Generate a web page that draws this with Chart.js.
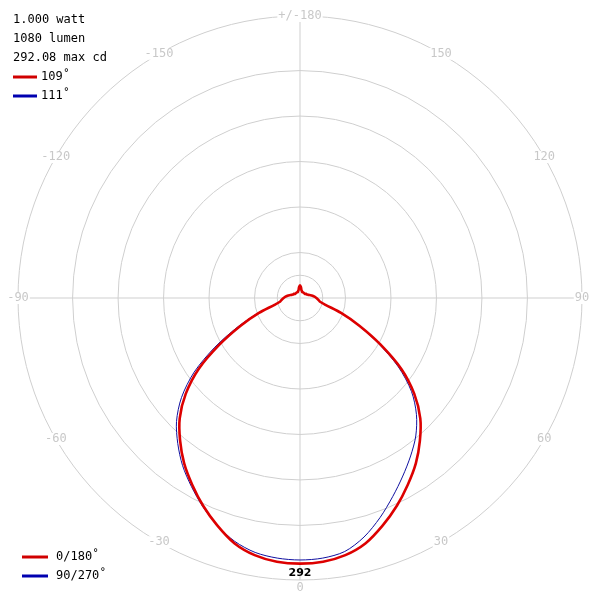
<!DOCTYPE html>
<html><head><meta charset="utf-8">
<script src="https://cdn.jsdelivr.net/npm/chart.js@4"></script>
<style>html,body{margin:0;background:#fff}#w{width:600px;height:600px}</style>
</head><body><div id="w"><canvas id="c"></canvas></div>
<script>
// angles clockwise from nadir, 5 deg steps (label order)
const angles = [0,-5,-10,-15,-20,-25,-30,-35,-40,-45,-50,-55,-60,-65,-70,-75,-80,-85,-90,-95,-100,-105,-110,-115,-120,-125,-130,-135,-140,-145,-150,-155,-160,-165,-170,-175,180,175,170,165,160,155,150,145,140,135,130,125,120,115,110,105,100,95,90,85,80,75,70,65,60,55,50,45,40,35,30,25,20,15,10,5];
const red0180 = [292,291,287,279,266,252,237,222,205,187,164,136,102,72,48,29,22,20,18,16,14,12,10,9,8,8,7,7,7,7,7,7,7,8,9,12,14,12,9,8,7,7,7,7,7,7,7,8,8,9,10,12,14,16,18,20,22,29,48,72,102,136,164,187,205,222,237,252,266,279,287,291];
const blue90270 = [288,287,284,277,266,253,239,225,209,192,170,142,108,76,50,30,22,20,18,16,14,12,10,9,8,8,7,7,7,7,7,7,7,8,9,12,14,12,9,8,7,7,7,7,7,7,7,8,8,9,10,12,14,16,18,20,22,29,47,70,99,132,160,181,198,212,226,241,257,272,283,287];
const ringValues = [25,50,100,150,200,250,310];
const angleLabels = {0:'0',6:'-30',12:'-60',18:'-90',24:'-120',30:'-150',36:'+/-180',42:'150',48:'120',54:'90',60:'60',66:'30'};
const infoLines = ['1.000 watt','1080 lumen','292.08 max cd'];
const legendTop = [['109˚','#d00000'],['111˚','#0000b0']];
const legendBottom = [['0/180˚','#d00000'],['90/270˚','#0000b0']];
const peakLabel = '292';

const rings = {
  id:'rings',
  beforeDatasetsDraw(chart){
    const ctx = chart.ctx, s = chart.scales.r;
    ctx.save();
    ctx.strokeStyle = '#cfcfcf'; ctx.lineWidth = 1;
    ringValues.forEach(v=>{
      ctx.beginPath();
      ctx.arc(s.xCenter, s.yCenter, s.getDistanceFromCenterForValue(v), 0, Math.PI*2);
      ctx.stroke();
    });
    ctx.restore();
  }
};

const overlay = {
  id:'overlay',
  afterDraw(chart){
    const ctx = chart.ctx, s = chart.scales.r;
    ctx.save();
    ctx.font = '12px "DejaVu Sans Mono", monospace';
    ctx.textBaseline = 'middle'; ctx.textAlign = 'center';
    for (const k in angleLabels){
      const t = angleLabels[k];
      const p = s.getPointPosition(+k, s.drawingArea + (k==0 ? 8 : 0));
      const w = ctx.measureText(t).width;
      if (k!=0){ ctx.fillStyle='#fff'; ctx.fillRect(p.x-w/2-1,p.y-6,w+2,12); }
      ctx.fillStyle = '#c8c8c8';
      ctx.fillText(t,p.x,p.y);
    }
    ctx.textAlign = 'left';
    ctx.fillStyle = '#000';
    infoLines.forEach((t,i)=>ctx.fillText(t,13,20+i*19));
    legendTop.forEach((l,i)=>{
      const y = 77+i*19;
      ctx.strokeStyle=l[1]; ctx.lineWidth=3;
      ctx.beginPath(); ctx.moveTo(13,y); ctx.lineTo(37,y); ctx.stroke();
      ctx.fillStyle='#000'; ctx.fillText(l[0],41,y);
    });
    legendBottom.forEach((l,i)=>{
      const y = 557+i*19;
      ctx.strokeStyle=l[1]; ctx.lineWidth=3;
      ctx.beginPath(); ctx.moveTo(22,y); ctx.lineTo(48,y); ctx.stroke();
      ctx.fillStyle='#000'; ctx.fillText(l[0],56,y);
    });
    const pk = s.getPointPosition(0, s.getDistanceFromCenterForValue(red0180[0]));
    ctx.font = 'bold 11px "DejaVu Sans", sans-serif';
    ctx.textAlign='center';
    ctx.fillText(peakLabel, pk.x, pk.y+10);
    ctx.restore();
  }
};

new Chart(document.getElementById('c'),{
  type:'radar',
  data:{labels:angles,datasets:[
    {label:'0/180',data:red0180,borderColor:'#dd0000',borderWidth:2.6,pointRadius:0,fill:false,tension:0.3},
    {label:'90/270',data:blue90270,borderColor:'#1010a0',borderWidth:1,pointRadius:0,fill:false,tension:0.3}
  ]},
  options:{
    responsive:true,maintainAspectRatio:false,animation:false,
    layout:{padding:{top:14,bottom:18,left:18,right:18}},
    plugins:{legend:{display:false},tooltip:{enabled:false}},
    scales:{r:{
      min:0,max:310,startAngle:180,
      ticks:{display:false},
      grid:{display:false},
      angleLines:{display:true,lineWidth:1,color:(c)=> (c.index%18===0)?'#cfcfcf':'rgba(0,0,0,0)'},
      pointLabels:{display:false}
    }}
  },
  plugins:[rings,overlay]
});
</script></body></html>
